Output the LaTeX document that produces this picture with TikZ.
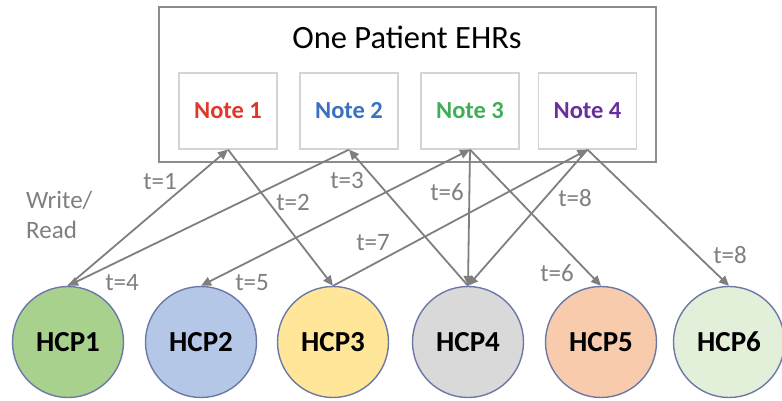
\documentclass[tikz,border=0pt]{standalone}
\usepackage{fontspec}
\setmainfont{Carlito}
\usetikzlibrary{arrows.meta}

\definecolor{framegray}{HTML}{8C8C8C}
\definecolor{notegray}{HTML}{D4D4D4}
\definecolor{linkgray}{HTML}{7F7F7F}
\definecolor{ringblue}{HTML}{6B78A8}
\definecolor{noteA}{HTML}{E2362B}
\definecolor{noteB}{HTML}{3A70C0}
\definecolor{noteC}{HTML}{3FAE57}
\definecolor{noteD}{HTML}{6A2E9E}
\definecolor{hcpA}{HTML}{A9D18E}
\definecolor{hcpB}{HTML}{B4C7E7}
\definecolor{hcpC}{HTML}{FFE699}
\definecolor{hcpD}{HTML}{D9D9D9}
\definecolor{hcpE}{HTML}{F8CBAD}
\definecolor{hcpF}{HTML}{E2F0D9}

\tikzset{
  notebox/.style={draw=notegray, line width=1.2pt, minimum width=98pt, minimum height=76pt,
    inner sep=0pt, font=\fontsize{24.5}{24.5}\selectfont\bfseries},
  hcp/.style={circle, draw=ringblue, line width=1.4pt, minimum size=111pt, inner sep=0pt,
    font=\fontsize{29}{29}\selectfont\bfseries},
  link/.style={draw=linkgray, line width=1.8pt, -{Triangle[length=10pt,width=9pt]}},
  linkboth/.style={draw=linkgray, line width=1.8pt, {Triangle[length=10pt,width=9pt]}-{Triangle[length=10pt,width=9pt]}},
  tlabel/.style={text=linkgray, font=\fontsize{25}{25}\selectfont, inner sep=0pt}
}

\begin{document}
\begin{tikzpicture}[x=1pt, y=-1pt]
\useasboundingbox (0,0) rectangle (782,400);

% record container
\node[draw=framegray, line width=1.5pt, minimum width=497pt, minimum height=155pt, inner sep=0pt]
  (ehr) at (407.5,84.5) {};
\node[font=\fontsize{32.5}{32.5}\selectfont, inner sep=0pt] (title) at (407,37) {One Patient EHRs};

% notes
\node[notebox, text=noteA] (note1) at (228,111) {Note 1};
\node[notebox, text=noteB] (note2) at (349,111) {Note 2};
\node[notebox, text=noteC] (note3) at (470,111) {Note 3};
\node[notebox, text=noteD] (note4) at (587.5,111) {Note 4};

% care providers
\node[hcp, fill=hcpA] (hcp1) at (68,342) {HCP1};
\node[hcp, fill=hcpB] (hcp2) at (201,342) {HCP2};
\node[hcp, fill=hcpC] (hcp3) at (333,342) {HCP3};
\node[hcp, fill=hcpD] (hcp4) at (468,342) {HCP4};
\node[hcp, fill=hcpE] (hcp5) at (601,342) {HCP5};
\node[hcp, fill=hcpF] (hcp6) at (729,342) {HCP6};

% write/read events
\draw[link] (hcp1.north) -- (note1.south);
\draw[link] (note1.south) -- (hcp3.north);
\draw[link] (hcp4.north) -- (note2.south);
\draw[link] (note2.south) -- (hcp1.north);
\draw[linkboth] (hcp2.north) -- (note3.south);
\draw[link] (note3.south) -- (hcp4.north);
\draw[link] (note3.south) -- (hcp5.north);
\draw[link] (hcp3.north) -- (note4.south);
\draw[link] (note4.south) -- (hcp4.north);
\draw[link] (note4.south) -- (hcp6.north);

% time stamps
\node[tlabel, anchor=west, align=left] (wr) at (26,215) {Write/\\[5pt]Read};
\node[tlabel] (t1) at (160,182) {t=1};
\node[tlabel] (t2) at (293,202) {t=2};
\node[tlabel] (t3) at (347,180) {t=3};
\node[tlabel] (t4) at (122,283) {t=4};
\node[tlabel] (t5) at (252,283) {t=5};
\node[tlabel] (t6a) at (447,192) {t=6};
\node[tlabel] (t7) at (373,243) {t=7};
\node[tlabel] (t8a) at (575,198) {t=8};
\node[tlabel] (t6b) at (557,273) {t=6};
\node[tlabel] (t8b) at (730,255) {t=8};
\end{tikzpicture}
\end{document}
